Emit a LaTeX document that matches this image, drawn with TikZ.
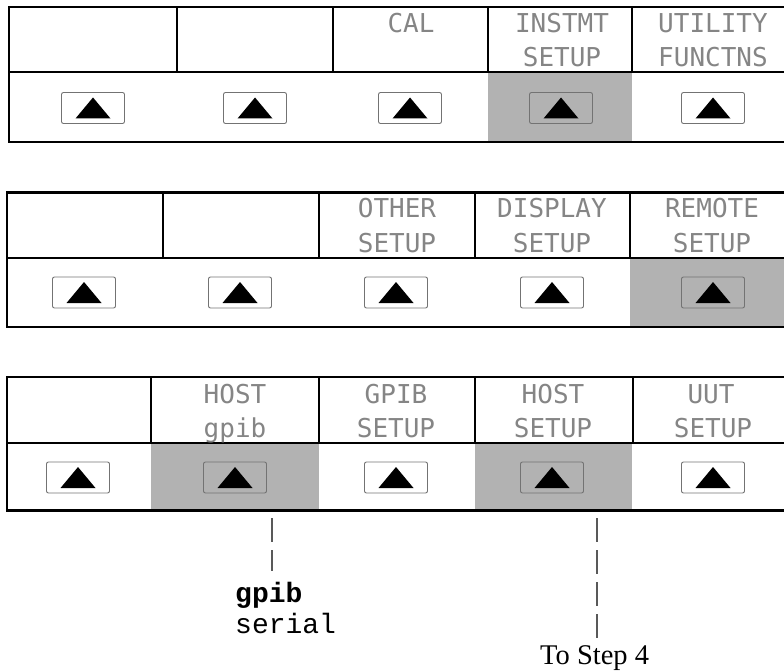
\documentclass[tikz,border=0pt]{standalone}
\usepackage{fontspec}
\setmainfont{Liberation Serif}
\newfontfamily\lcdfont{DejaVu Sans Mono}
\newfontfamily\courfont{Liberation Mono}
\newcommand\keybtn[3]{%
  \node[keybox] (#1) at (#2,#3) {};
  \fill (#1.center) ++(-17.5,10.5) -- ++(35,0) -- ++(-17.5,-21) -- cycle;}
\begin{document}
\begin{tikzpicture}[x=1pt,y=-1pt,
  frame/.style={line width=2.6pt},
  shadecell/.style={fill=gray!60},
  keybox/.style={draw=black!55, line width=0.9pt, rounded corners=2pt,
    minimum width=63pt, minimum height=31pt, inner sep=0pt},
  lcd/.style={font=\lcdfont\fontsize{26}{30}\selectfont, text=black!48,
    anchor=base, inner sep=0pt},
  lead/.style={draw=black!65, line width=1.3pt, dash pattern=on 24pt off 8pt}]
\useasboundingbox (0,0) rectangle (784,671);

% ---------- panel 1 ----------
\fill[shadecell] (488,72) rectangle (632,142);
\draw[frame] (784,7) -- (9,7) -- (9,142) -- (784,142);
\draw[frame] (9,72) -- (784,72);
\draw[frame] (177,7) -- (177,72) (333,7) -- (333,72)
             (488,7) -- (488,72) (632,7) -- (632,72);
\keybtn{a1}{93}{108}
\keybtn{a2}{255}{108}
\keybtn{a3}{410}{108}
\keybtn{a4}{561}{108}
\keybtn{a5}{713}{108}
\node[lcd] (cal) at (411,33) {CAL};
\node[lcd] (instA) at (562,33) {INSTMT};
\node[lcd] (instB) at (562,67) {SETUP};
\node[lcd] (utilA) at (713,33) {UTILITY};
\node[lcd] (utilB) at (713,67) {FUNCTNS};

% ---------- panel 2 ----------
\fill[shadecell] (630,258) rectangle (784,327);
\draw[frame] (784,192.5) -- (7,192.5) -- (7,327) -- (784,327);
\draw[frame] (7,258) -- (784,258);
\draw[frame] (163,192.5) -- (163,258) (319,192.5) -- (319,258)
             (475,192.5) -- (475,258) (630,192.5) -- (630,258);
\keybtn{b1}{84}{292.5}
\keybtn{b2}{240}{292.5}
\keybtn{b3}{396}{292.5}
\keybtn{b4}{552}{292.5}
\keybtn{b5}{713}{292.5}
\node[lcd] (otherA) at (397,218) {OTHER};
\node[lcd] (otherB) at (397,252) {SETUP};
\node[lcd] (dispA) at (552,218) {DISPLAY};
\node[lcd] (dispB) at (552,252) {SETUP};
\node[lcd] (remA) at (712,218) {REMOTE};
\node[lcd] (remB) at (712,252) {SETUP};

% ---------- panel 3 ----------
\fill[shadecell] (151,443) rectangle (319,510.5);
\fill[shadecell] (475,443) rectangle (632,510.5);
\draw[frame] (784,377) -- (7,377) -- (7,510.5) -- (784,510.5);
\draw[frame] (7,443) -- (784,443);
\draw[frame] (151,377) -- (151,443) (319,377) -- (319,443)
             (475,377) -- (475,443) (633,377) -- (633,443);
\keybtn{c1}{78}{477.5}
\keybtn{c2}{235}{477.5}
\keybtn{c3}{396}{477.5}
\keybtn{c4}{552}{477.5}
\keybtn{c5}{713}{477.5}
\node[lcd] (hostA) at (235,403) {HOST};
\node[lcd] (hostB) at (235,437) {gpib};
\node[lcd] (gpibA) at (396,403) {GPIB};
\node[lcd] (gpibB) at (396,437) {SETUP};
\node[lcd] (hsA) at (553,403) {HOST};
\node[lcd] (hsB) at (553,437) {SETUP};
\node[lcd] (uutA) at (711,403) {UUT};
\node[lcd] (uutB) at (713,437) {SETUP};

% ---------- choices and leads ----------
\node[anchor=base west, inner sep=0pt, font=\courfont\bfseries\fontsize{28}{32}\selectfont]
  (optgpib) at (235,602) {gpib};
\node[anchor=base west, inner sep=0pt, font=\courfont\fontsize{28}{32}\selectfont]
  (optserial) at (235,633) {serial};
\node[anchor=base west, inner sep=0pt, font=\fontsize{28.5}{32}\selectfont]
  (tostep) at (540,664) {To Step 4};

\coordinate (hostlead) at (272,518);
\coordinate (steplead) at (597,518);
\draw[lead, shorten >=10.5pt] (hostlead) -- (hostlead |- optgpib.north);
\draw[lead, shorten >=7pt] (steplead) -- (steplead |- tostep.north);
\end{tikzpicture}
\end{document}
